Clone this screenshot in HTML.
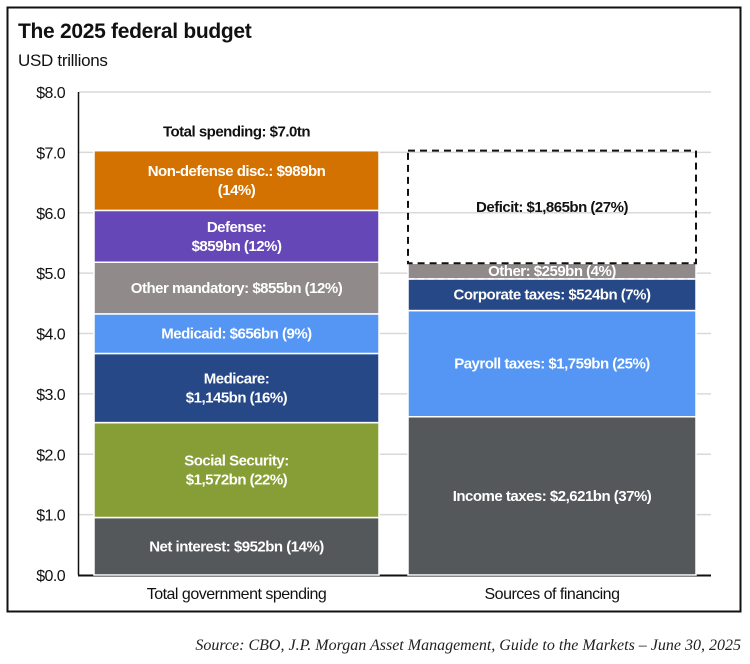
<!DOCTYPE html>
<html><head><meta charset="utf-8"><style>
body{margin:0;background:#fff;width:750px;height:659px;overflow:hidden;font-family:"Liberation Sans",Arial,sans-serif}
svg text{font-family:"Liberation Sans",Arial,sans-serif}
</style></head><body>
<svg id="chart" width="750" height="659">
<rect x="7.5" y="7.5" width="733" height="604" fill="#fff" stroke="#111" stroke-width="2"/>
<text x="18" y="38" font-size="21" font-weight="bold" fill="#111" letter-spacing="-0.3">The 2025 federal budget</text>
<text x="18" y="66" font-size="17" fill="#111" letter-spacing="-0.3">USD trillions</text>
<g id="grid"></g><g id="bars"></g><g id="labels"></g>
<text x="741" y="650" text-anchor="end" font-family="Liberation Serif,serif" font-style="italic" font-size="16" fill="#222" style="font-family:'Liberation Serif',serif">Source: CBO, J.P. Morgan Asset Management, Guide to the Markets – June 30, 2025</text>
</svg>
<script>
const yTicks=[0,1,2,3,4,5,6,7,8];
const tickLabels=["$0.0","$1.0","$2.0","$3.0","$4.0","$5.0","$6.0","$7.0","$8.0"];
const categories=["Total government spending","Sources of financing"];
const spendNames=["Net interest","Social Security","Medicare","Medicaid","Other mandatory","Defense","Non-defense disc."];
const spendValues=[0.952,1.572,1.145,0.656,0.855,0.859,0.989];
const spendLabels=[["Net interest: $952bn (14%)"],["Social Security:","$1,572bn (22%)"],["Medicare:","$1,145bn (16%)"],["Medicaid: $656bn (9%)"],["Other mandatory: $855bn (12%)"],["Defense:","$859bn (12%)"],["Non-defense disc.: $989bn","(14%)"]];
const finNames=["Income taxes","Payroll taxes","Corporate taxes","Other","Deficit"];
const finValues=[2.621,1.759,0.524,0.259,1.865];
const finLabels=[["Income taxes: $2,621bn (37%)"],["Payroll taxes: $1,759bn (25%)"],["Corporate taxes: $524bn (7%)"],["Other: $259bn (4%)"],["Deficit: $1,865bn (27%)"]];
const totalLabel="Total spending: $7.0tn";
const spendColors=["#54585b","#869e35","#264887","#5596f4","#918a8a","#6647b7","#d37200"];
const finColors=["#54585b","#5596f4","#264887","#918a8a","none"];
const NS="http://www.w3.org/2000/svg";
const y0=575,y1=92,yMax=8;
function y(v){return y0-(v/yMax)*(y0-y1);}
const barX=[94,408],barW=[285,288];
function mk(tag,attrs,parent){const e=document.createElementNS(NS,tag);for(const k in attrs)e.setAttribute(k,attrs[k]);parent.appendChild(e);return e;}
const grid=document.getElementById('grid'),bars=document.getElementById('bars'),labels=document.getElementById('labels');
yTicks.forEach((t,i)=>{
 if(t>0){const l=mk('line',{x1:79,x2:711,y1:y(t),y2:y(t),stroke:'#d9d9d9','stroke-width':1.5},grid);
 
 }
 const tx=mk('text',{x:65,y:y(t)+6,'text-anchor':'end','font-size':16,fill:'#111','letter-spacing':'-0.6'},grid);
 tx.textContent=tickLabels[i];
 
 
});
const ax=mk('line',{x1:78.5,x2:78.5,y1:y(8),y2:y0,stroke:'#111','stroke-width':1.5},grid);


const bx=mk('line',{x1:78,x2:711,y1:y0+0.5,y2:y0+0.5,stroke:'#111','stroke-width':2},grid);


function seg(bi,vals,cols,labs,names){
 let acc=0;
 vals.forEach((v,i)=>{
  const top=y(acc+v),bot=y(acc);acc+=v;
  const x=barX[bi],w=barW[bi];
  if(cols[i]!=='none'){
   const r=mk('rect',{x:x,y:top,width:w,height:bot-top,fill:cols[i],stroke:'#fff','stroke-width':1.5},bars);
   
   
  } else {
   const r=mk('rect',{x:x,y:top,width:w,height:bot-top,fill:'none',stroke:'#111','stroke-width':2,'stroke-dasharray':'7,5'},bars);
   
   
  }
  const lab=labs[i],cy=(top+bot)/2,lh=19;
  const small=(bot-top)<25;
  lab.forEach((s,j)=>{
   const t=mk('text',{x:x+w/2,y:cy+(j-(lab.length-1)/2)*lh+5,'text-anchor':'middle','font-size':15,'font-weight':'bold',fill:cols[i]==='none'?'#111':'#fff','letter-spacing':'-0.5'},labels);
   if(small)t.setAttribute('y',top+(bot-top)/2+5);
   t.textContent=s;
   
   
  });
 });
}
seg(0,spendValues,spendColors,spendLabels,spendNames);
seg(1,finValues,finColors,finLabels,finNames);
// dashed line under "Other" in financing bar
let oBase=finValues[0]+finValues[1]+finValues[2];
const dl=mk('line',{x1:barX[1],x2:barX[1]+barW[1],y1:y(oBase),y2:y(oBase),stroke:'#fff','stroke-width':1.5,'stroke-dasharray':'6,4'},bars);


const tot=spendValues.reduce((a,b)=>a+b,0);
const tl=mk('text',{x:barX[0]+barW[0]/2,y:y(tot)-14,'text-anchor':'middle','font-size':15,'font-weight':'bold',fill:'#111','letter-spacing':'-0.5'},labels);
tl.textContent=totalLabel;


categories.forEach((c,i)=>{
 const t=mk('text',{x:barX[i]+barW[i]/2,y:599,'text-anchor':'middle','font-size':16,fill:'#111','letter-spacing':'-0.5'},labels);
 t.textContent=c;
 
 
});
</script>
</body></html>
